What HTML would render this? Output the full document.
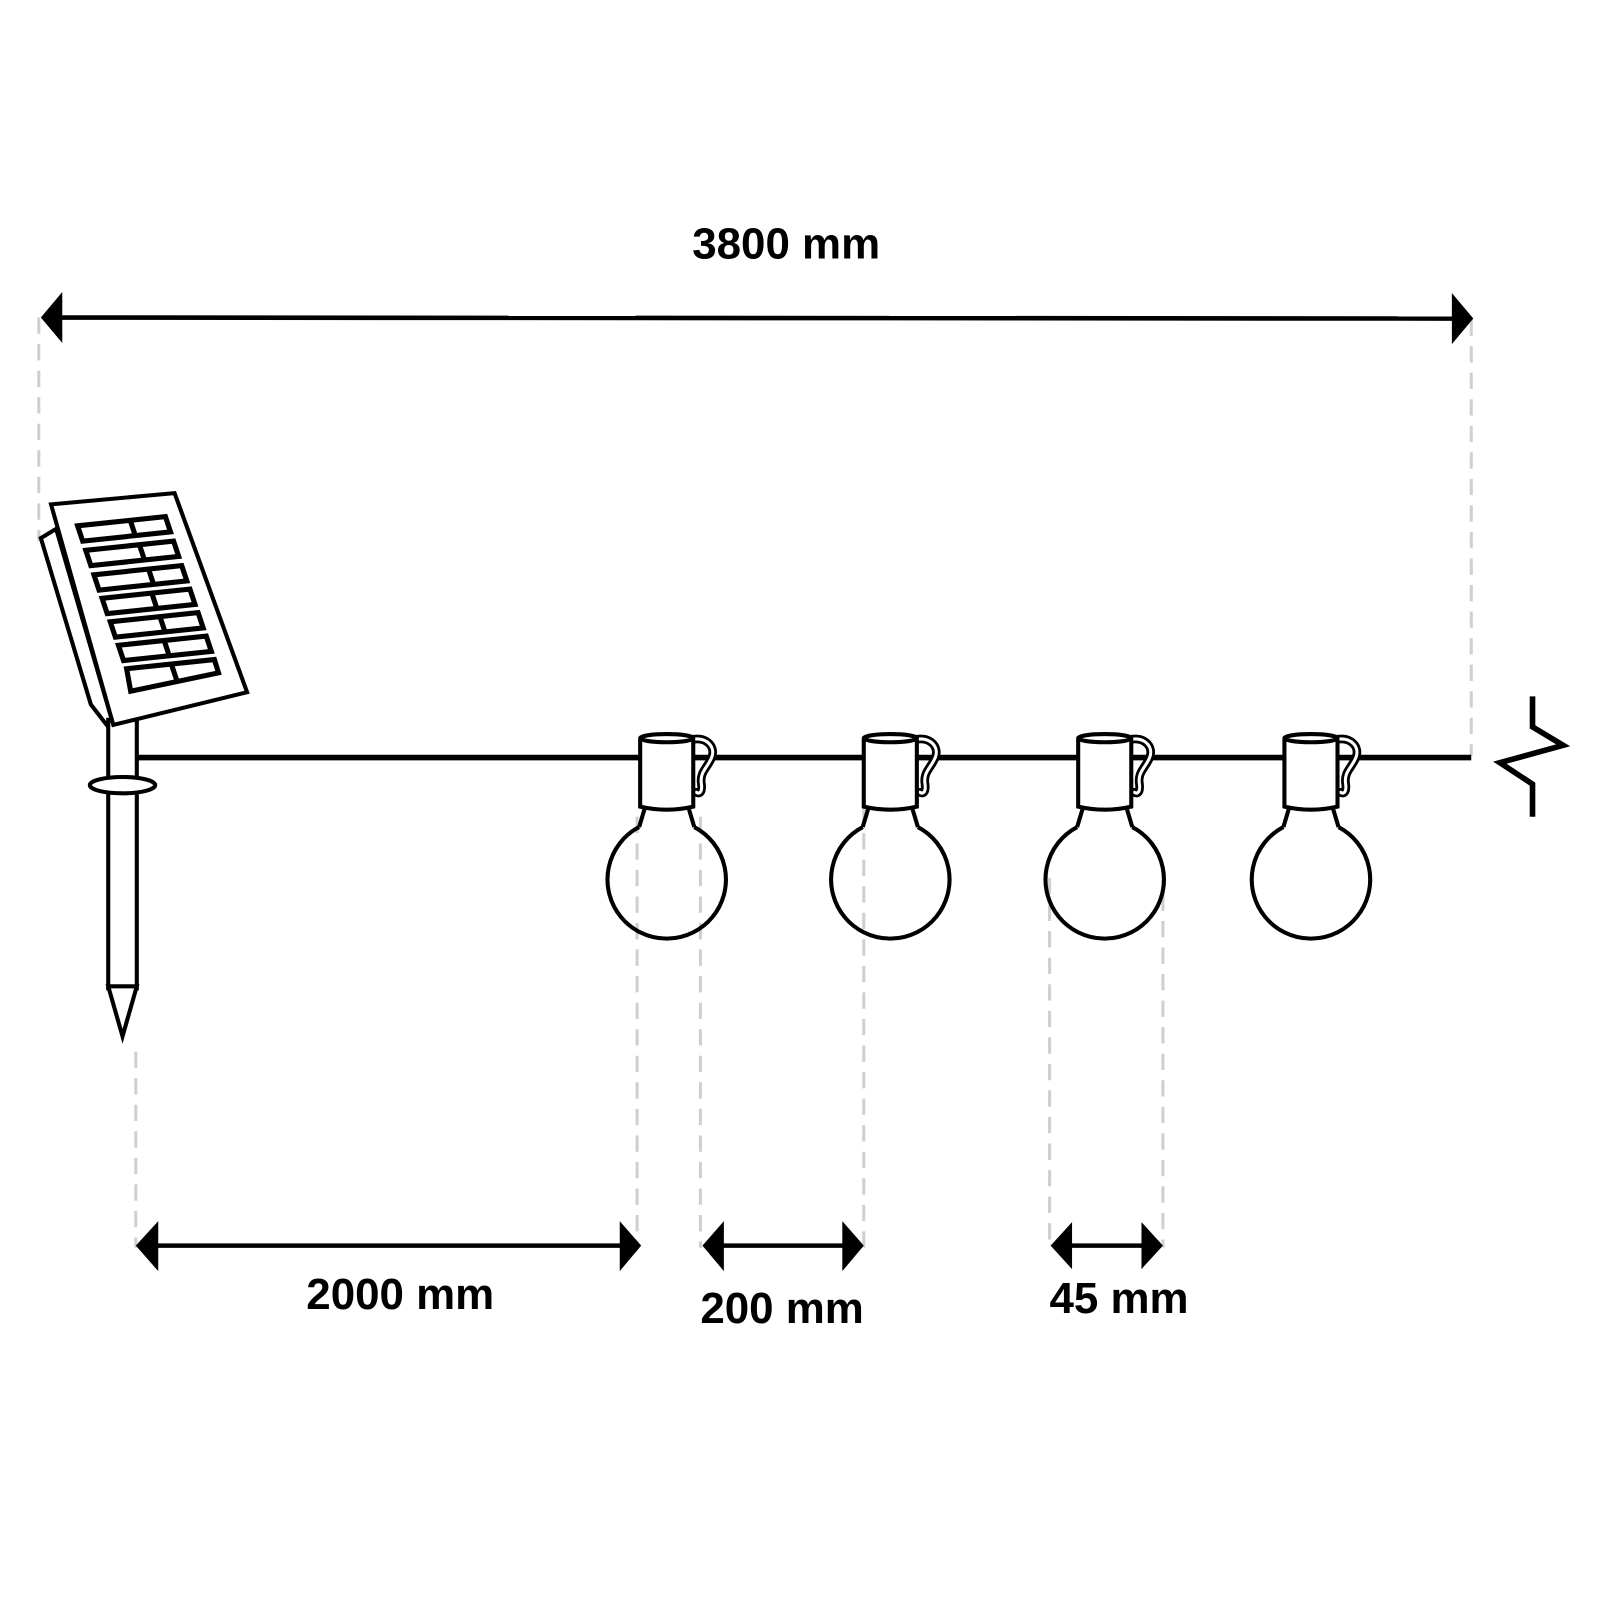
<!DOCTYPE html>
<html><head><style>html,body{margin:0;padding:0;background:#fff}svg{display:block}</style></head>
<body>
<svg width="1600" height="1600" viewBox="0 0 1600 1600" xmlns="http://www.w3.org/2000/svg">
<defs>
<g id="bulb">
  <path d="M52,4 C66,2 74,12 70,22 C66,32 58,36 60,48 C61,56 58,58 55,56" fill="none" stroke="#000" stroke-width="8.5" stroke-linecap="round"/>
  <path d="M52,4 C66,2 74,12 70,22 C66,32 58,36 60,48 C61,56 58,58 55,56" fill="none" stroke="#fff" stroke-width="3" stroke-linecap="round"/>
  <path d="M5,70 L-1,90 M47,70 L53,90" stroke="#000" stroke-width="4" fill="none"/>
  <path d="M-1,90 A58,58 0 1 0 53,90" fill="none" stroke="#000" stroke-width="4"/>
  <path d="M0,4 L0,70 Q26,76 52,70 L52,4" fill="#fff" stroke="#000" stroke-width="4"/>
  <ellipse cx="26" cy="3" rx="26" ry="4" fill="#fff" stroke="#000" stroke-width="4"/>
</g>
</defs>
<g transform="scale(1.021)">
<g stroke="#cfcfcf" stroke-width="3" stroke-dasharray="16,10" fill="none">
  <line x1="38" y1="311" x2="38" y2="530"/>
  <line x1="1441" y1="313" x2="1441" y2="740"/>
  <line x1="133" y1="1030" x2="133" y2="1222"/>
  <line x1="624" y1="800" x2="624" y2="1222"/>
  <line x1="686" y1="800" x2="686" y2="1222"/>
  <line x1="846" y1="790" x2="846" y2="1222"/>
  <line x1="1028" y1="860" x2="1028" y2="1222"/>
  <line x1="1139" y1="850" x2="1139" y2="1222"/>
</g>

<line x1="55" y1="311" x2="1428" y2="312" stroke="#000" stroke-width="4.5"/>
<polygon points="40,311 61,286 61,336" fill="#000"/>
<polygon points="1443,312 1422,287 1422,337" fill="#000"/>
<text x="770" y="253" text-anchor="middle" font-family="Liberation Sans, sans-serif" font-weight="bold" font-size="43">3800 mm</text>

<line x1="134" y1="742" x2="1441" y2="742" stroke="#000" stroke-width="5.5"/>

<polyline points="1501,682 1501,712 1531,730 1469,747 1501,768 1501,800" fill="none" stroke="#000" stroke-width="5.5"/>

<g stroke="#000" stroke-width="4" fill="#fff" stroke-linejoin="miter">
  <polygon points="40,527 55,518 111,710 106,712 89,690"/>
  <rect x="106" y="705" width="28" height="263"/>
  <polygon points="106,966 134,966 120,1015"/>
  <ellipse cx="120" cy="769" rx="32" ry="8"/>
  <polygon points="50,494 171,483 242,678 111,710"/>
</g>
<g stroke="#000" stroke-width="5" fill="none">
  <polygon points="76,515 162,506 167,521 81,530"/>
  <polygon points="84,539 170,530 175,545 89,554"/>
  <polygon points="92,563 178,554 183,569 97,578"/>
  <polygon points="100,586 186,577 191,592 105,601"/>
  <polygon points="108,609 194,600 199,615 113,624"/>
  <polygon points="116,632 202,623 207,638 121,647"/>
  <polygon points="124,655 210,646 214,659 128,677"/>
  <line x1="128" y1="511" x2="133" y2="526"/>
  <line x1="137" y1="535" x2="142" y2="550"/>
  <line x1="146" y1="559" x2="151" y2="574"/>
  <line x1="149" y1="582" x2="154" y2="597"/>
  <line x1="157" y1="605" x2="162" y2="620"/>
  <line x1="161" y1="628" x2="166" y2="643"/>
  <line x1="168" y1="651" x2="173" y2="666"/>
</g>

<use href="#bulb" x="627" y="720"/>
<use href="#bulb" x="846" y="720"/>
<use href="#bulb" x="1056" y="720"/>
<use href="#bulb" x="1258" y="720"/>

<g fill="#000">
  <line x1="150" y1="1220" x2="612" y2="1220" stroke="#000" stroke-width="4.5"/>
  <polygon points="133,1220 155,1196 155,1245"/>
  <polygon points="628,1220 607,1196 607,1245"/>
  <line x1="705" y1="1220" x2="830" y2="1220" stroke="#000" stroke-width="4.5"/>
  <polygon points="688,1220 709,1196 709,1245"/>
  <polygon points="846,1220 825,1196 825,1245"/>
  <line x1="1045" y1="1220" x2="1122" y2="1220" stroke="#000" stroke-width="4.5"/>
  <polygon points="1029,1220 1050,1197 1050,1243"/>
  <polygon points="1139,1220 1118,1197 1118,1243"/>
</g>
<g font-family="Liberation Sans, sans-serif" font-weight="bold" font-size="43" text-anchor="middle">
  <text x="392" y="1282">2000 mm</text>
  <text x="766" y="1296">200 mm</text>
  <text x="1096" y="1286">45 mm</text>
</g>
</g>
</svg>
</body></html>
